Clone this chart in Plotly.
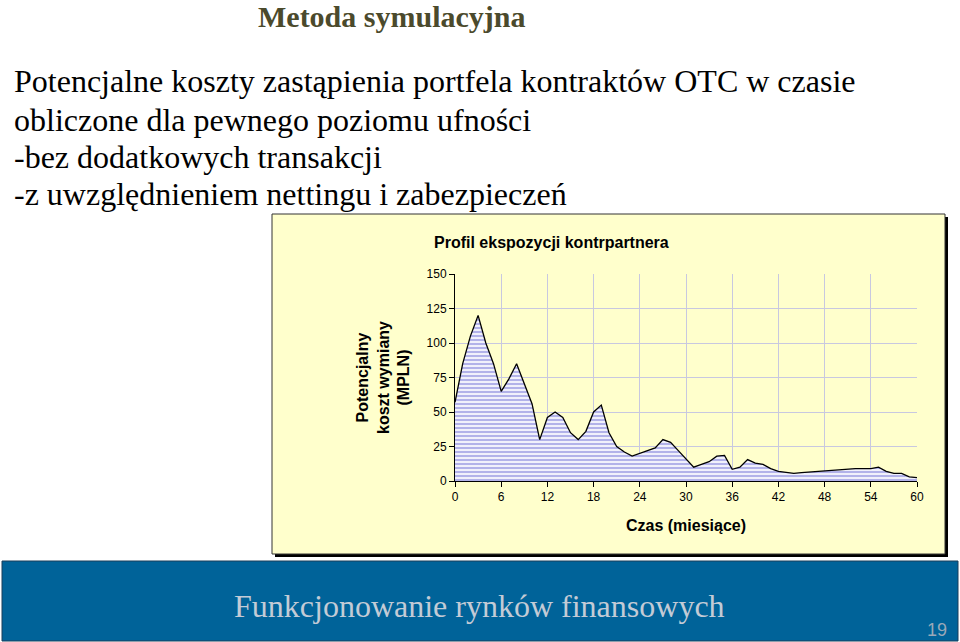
import plotly.graph_objects as go

# Profil ekspozycji: miesiace 0..60, koszt w MPLN
miesiace = list(range(0, 61))
koszt = [57, 85, 105, 120, 100, 85, 65, 74, 85, 70,
         56, 30, 46, 50, 46, 35, 30, 36, 50, 55,
         35, 25, 21, 18, 20, 22, 24, 30, 28, 22,
         16, 10, 12, 14, 18, 18.5, 8.5, 10, 15.5, 13,
         12, 9, 7, 6, 5.5, 6, 6.5, 7, 7.5, 7.5,
         8, 8.5, 9, 9, 9, 10, 7, 5.5, 5.5, 3, 2.5]

x_ticks = [0, 6, 12, 18, 24, 30, 36, 42, 48, 54, 60]
y_ticks = [0, 25, 50, 75, 100, 125, 150]

punkty = [
    "Potencjalne koszty zastąpienia portfela kontraktów OTC w czasie",
    "obliczone dla pewnego poziomu ufności",
    "-bez dodatkowych transakcji",
    "-z uwzględnieniem nettingu i zabezpieczeń",
]

W, H = 960, 642
# obszar wykresu w pikselach
L, R, T, B = 455, 917, 274, 481
SERIF = "Liberation Serif"
SANS = "Liberation Sans"


def px(x):
    return (x - L) / (R - L)


def py(y):
    return (B - y) / (B - T)


fig = go.Figure()
fig.add_trace(go.Scatter(
    x=miesiace, y=koszt, mode="lines",
    line=dict(color="black", width=1.3),
    fill="tozeroy",
    fillpattern=dict(shape="-", fgcolor="#6666d4", bgcolor="white", size=4, solidity=0.6),
    hoverinfo="skip", showlegend=False,
))

axis_font = dict(family=SANS, size=12, color="black")
fig.update_xaxes(range=[0, 60], tickvals=x_ticks, showgrid=True, gridcolor="#c8c8e0",
                 gridwidth=1, showline=True, linecolor="black", linewidth=1,
                 ticks="outside", ticklen=5, tickcolor="black", tickfont=axis_font,
                 zeroline=False,
                 title=dict(text="<b>Czas (miesiące)</b>", standoff=16,
                            font=dict(family=SANS, size=16, color="black")))
fig.update_yaxes(range=[0, 150], tickvals=y_ticks, showgrid=True, gridcolor="#c8c8e0",
                 gridwidth=1, showline=True, linecolor="black", linewidth=1,
                 ticks="outside", ticklen=5, tickcolor="black", tickfont=axis_font,
                 zeroline=False,
                 title=dict(text="<b>Potencjalny<br>koszt wymiany<br>(MPLN)</b>", standoff=12,
                            font=dict(family=SANS, size=16, color="black")))

shapes = [
    # cien ramki wykresu
    dict(type="rect", x0=px(275), x1=px(948), y0=py(557), y1=py(217),
         fillcolor="black", line=dict(width=0)),
    # ramka wykresu
    dict(type="rect", x0=px(272), x1=px(945), y0=py(554), y1=py(214),
         fillcolor="#ffffcc", line=dict(color="#333333", width=1)),
    # pasek na dole
    dict(type="rect", x0=px(2), x1=px(958), y0=py(641), y1=py(561),
         fillcolor="#006399", line=dict(color="#1a3f5a", width=1)),
]
for s in shapes:
    s.update(xref="paper", yref="paper", layer="below")

annotations = [
    dict(text="<b>Metoda symulacyjna</b>", x=px(391), y=py(17),
         font=dict(family=SERIF, size=30, color="#4b4a2c")),
    dict(text="<b>Profil ekspozycji kontrpartnera</b>", x=px(551), y=py(242),
         font=dict(family=SANS, size=16, color="black")),
    dict(text="Funkcjonowanie rynków finansowych", x=px(479), y=py(606),
         font=dict(family=SERIF, size=32, color="#c3cbd6")),
    dict(text="19", x=px(937), y=py(630),
         font=dict(family=SANS, size=18, color="#9aa8b8")),
]
for tekst, yy in zip(punkty, [81, 120, 157, 194]):
    annotations.append(dict(text=tekst, x=px(12), y=py(yy), xanchor="left",
                            font=dict(family=SERIF, size=32, color="black")))
for a in annotations:
    a.update(xref="paper", yref="paper", showarrow=False)
    a.setdefault("xanchor", "center")
    a["yanchor"] = "middle"

fig.update_layout(
    width=W, height=H,
    margin=dict(l=L, r=W - R, t=T, b=H - B),
    paper_bgcolor="white", plot_bgcolor="white",
    shapes=shapes, annotations=annotations,
)

fig.write_html("out.html", config={"displayModeBar": False},
               post_script="document.body.style.margin='0';")
